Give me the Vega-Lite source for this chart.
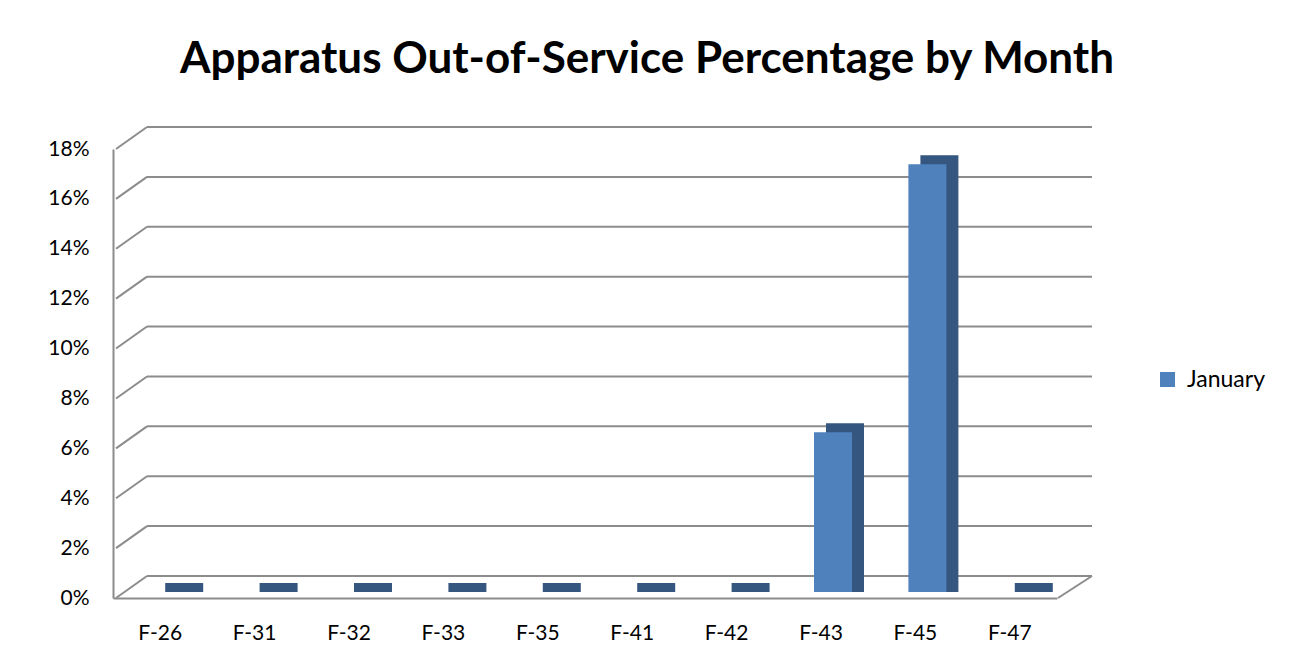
{
  "$schema": "https://vega.github.io/schema/vega-lite/v6.json",
  "autosize": {"type": "none"},
  "padding": {"left": 113, "top": 149, "right": 234, "bottom": 71},
  "width": 944,
  "height": 449,
  "background": "white",
  "title": {
    "text": "Apparatus Out-of-Service Percentage by Month",
    "font": "Lato",
    "fontSize": 44,
    "fontWeight": "bold",
    "color": "#000000",
    "anchor": "middle",
    "dx": 62,
    "offset": 44
  },
  "config": {
    "view": {"stroke": null},
    "font": "Lato"
  },
  "datasets": {
    "apparatus": [
      {"unit": "F-26", "month": "January", "pct": 0},
      {"unit": "F-31", "month": "January", "pct": 0},
      {"unit": "F-32", "month": "January", "pct": 0},
      {"unit": "F-33", "month": "January", "pct": 0},
      {"unit": "F-35", "month": "January", "pct": 0},
      {"unit": "F-41", "month": "January", "pct": 0},
      {"unit": "F-42", "month": "January", "pct": 0},
      {"unit": "F-43", "month": "January", "pct": 0.064},
      {"unit": "F-45", "month": "January", "pct": 0.1715},
      {"unit": "F-47", "month": "January", "pct": 0}
    ],
    "grid": [
      {"g": 0}, {"g": 0.02}, {"g": 0.04}, {"g": 0.06}, {"g": 0.08},
      {"g": 0.10}, {"g": 0.12}, {"g": 0.14}, {"g": 0.16}, {"g": 0.18}
    ]
  },
  "layer": [
    {
      "data": {"name": "grid"},
      "mark": {"type": "rule", "color": "#8c8c8c", "strokeWidth": 2, "xOffset": 34, "x2Offset": 35, "yOffset": -22, "y2Offset": -22},
      "encoding": {
        "x": {"datum": "F-26", "bandPosition": 0, "type": "nominal"},
        "x2": {"datum": "F-47", "bandPosition": 1},
        "y": {"field": "g", "type": "quantitative"},
        "y2": {"field": "g"}
      }
    },
    {
      "data": {"name": "grid"},
      "mark": {"type": "rule", "color": "#8c8c8c", "strokeWidth": 2, "xOffset": 3, "x2Offset": 34, "yOffset": 0, "y2Offset": -22},
      "encoding": {
        "x": {"datum": "F-26", "bandPosition": 0, "type": "nominal"},
        "x2": {"datum": "F-26", "bandPosition": 0},
        "y": {"field": "g", "type": "quantitative"},
        "y2": {"field": "g"}
      }
    },
    {
      "data": {"values": [{"g": 0}]},
      "mark": {"type": "rule", "color": "#8c8c8c", "strokeWidth": 2, "xOffset": 1, "x2Offset": 35, "yOffset": 0, "y2Offset": -22},
      "encoding": {
        "x": {"datum": "F-47", "bandPosition": 1, "type": "nominal"},
        "x2": {"datum": "F-47", "bandPosition": 1},
        "y": {"field": "g", "type": "quantitative"},
        "y2": {"field": "g"}
      }
    },
    {
      "data": {"name": "apparatus"},
      "mark": {"type": "bar", "color": "#34567f", "width": 38, "xOffset": 24, "yOffset": -15, "y2Offset": -6},
      "encoding": {
        "x": {"field": "unit", "type": "nominal"},
        "y": {"field": "pct", "type": "quantitative"},
        "y2": {"datum": 0}
      }
    },
    {
      "data": {"name": "apparatus"},
      "mark": {"type": "bar", "width": 38, "xOffset": 12, "yOffset": -6, "y2Offset": -6},
      "encoding": {
        "x": {
          "field": "unit",
          "type": "nominal",
          "sort": null,
          "scale": {"paddingInner": 0, "paddingOuter": 0},
          "axis": {
            "title": null,
            "bandPosition": 0.5,
            "labelAngle": 0,
            "labelAlign": "center",
            "labelFont": "Lato",
            "labelFontSize": 21,
            "labelColor": "#000000",
            "labelPadding": 35,
            "ticks": false,
            "domain": true,
            "domainColor": "#8c8c8c",
            "domainWidth": 2
          }
        },
        "y": {
          "field": "pct",
          "type": "quantitative",
          "scale": {"domain": [0, 0.18], "nice": false},
          "axis": {
            "title": null,
            "values": [0, 0.02, 0.04, 0.06, 0.08, 0.10, 0.12, 0.14, 0.16, 0.18],
            "format": ".0%",
            "grid": false,
            "ticks": false,
            "labelFont": "Lato",
            "labelFontSize": 21,
            "labelColor": "#000000",
            "labelPadding": 24,
            "domain": true,
            "domainColor": "#8c8c8c",
            "domainWidth": 2
          }
        },
        "y2": {"datum": 0},
        "color": {
          "field": "month",
          "type": "nominal",
          "scale": {"range": ["#4f81bd"]},
          "legend": {
            "title": null,
            "orient": "none",
            "legendX": 1043,
            "legendY": 219,
            "symbolType": "square",
            "symbolSize": 225,
            "symbolStrokeWidth": 0,
            "labelFont": "Lato",
            "labelFontSize": 23,
            "labelColor": "#000000",
            "labelOffset": 8
          }
        }
      }
    }
  ]
}
